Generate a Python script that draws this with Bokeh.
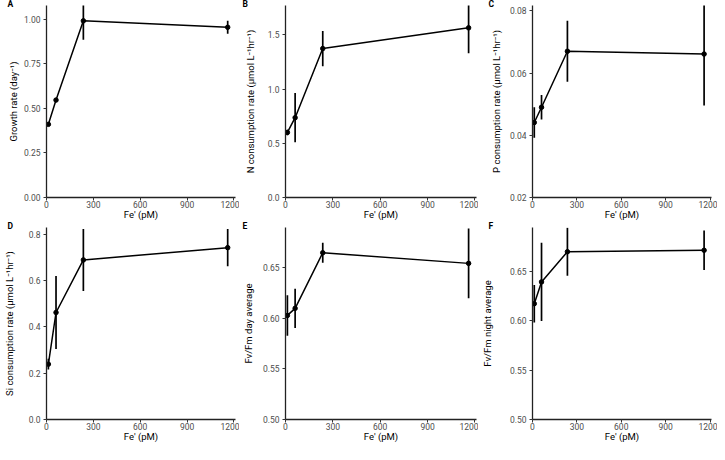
from bokeh.plotting import figure
from bokeh.layouts import gridplot
from bokeh.models import ColumnDataSource, Range1d, FixedTicker, NumeralTickFormatter, Title
from bokeh.embed import file_html
from bokeh.resources import INLINE

# ---- data ----
fe_pm = [12, 61, 236, 1160]
x_ticks = [0, 300, 600, 900, 1200]

growth = [0.410, 0.546, 0.990, 0.954]
growth_err = [0.010, 0.006, 0.106, 0.037]

n_rate = [0.600, 0.736, 1.373, 1.564]
n_err = [0.025, 0.227, 0.163, 0.235]

p_rate = [0.0441, 0.0490, 0.0670, 0.0661]
p_err = [0.0049, 0.0039, 0.0098, 0.0165]

si_rate = [0.239, 0.462, 0.689, 0.742]
si_err = [0.023, 0.158, 0.134, 0.080]

fvfm_day = [0.603, 0.610, 0.665, 0.6545]
fvfm_day_err = [0.020, 0.0195, 0.0098, 0.0345]

fvfm_night = [0.617, 0.639, 0.6695, 0.671]
fvfm_night_err = [0.019, 0.0395, 0.0243, 0.020]

FONT = "Roboto"

panels = [
    dict(letter="A", y=growth, err=growth_err, label="Growth rate (day\u207b\u00b9)",
         yr=(0, 1.076), ticks=[0, 0.25, 0.5, 0.75, 1.0], fmt="0.00",
         L=41, R=4, so=2),
    dict(letter="B", y=n_rate, err=n_err, label="N consumption rate (\u00b5mol L\u207b\u00b9hr\u207b\u00b9)",
         yr=(0, 1.77), ticks=[0, 0.5, 1.0, 1.5], fmt="0.0",
         L=45, R=2, so=9),
    dict(letter="C", y=p_rate, err=p_err, label="P consumption rate (\u00b5mol L\u207b\u00b9hr\u207b\u00b9)",
         yr=(0.02, 0.0817), ticks=[0.02, 0.04, 0.06, 0.08], fmt="0.00",
         L=46, R=6, so=5),
    dict(letter="D", y=si_rate, err=si_err, label="Si consumption rate (\u00b5mol L\u207b\u00b9hr\u207b\u00b9)",
         yr=(0, 0.829), ticks=[0, 0.2, 0.4, 0.6, 0.8], fmt="0.0",
         L=41, R=4, so=11),
    dict(letter="E", y=fvfm_day, err=fvfm_day_err, label="Fv/Fm day average",
         yr=(0.5, 0.69), ticks=[0.50, 0.55, 0.60, 0.65], fmt="0.00",
         L=45, R=2, so=6),
    dict(letter="F", y=fvfm_night, err=fvfm_night_err, label="Fv/Fm night average",
         yr=(0.5, 0.694), ticks=[0.50, 0.55, 0.60, 0.65], fmt="0.00",
         L=46, R=6, so=14),
]

W, H = 239, 222


def make_panel(cfg):
    p = figure(width=W, height=H, output_backend="svg", toolbar_location=None,
               x_range=Range1d(0, 1210), y_range=Range1d(*cfg["yr"]),
               min_border_left=cfg["L"], min_border_right=cfg["R"],
               min_border_top=0, min_border_bottom=24)
    p.outline_line_color = None
    p.xgrid.visible = False
    p.ygrid.visible = False
    p.background_fill_color = "white"
    p.border_fill_color = "white"

    # panel letter, pulled down over the top-left corner
    p.title = Title(text=cfg["letter"], align="left", vertical_align="bottom",
                    offset=-(cfg["L"] - 2), standoff=-7,
                    text_font=FONT, text_font_style="bold", text_font_size="8.5px",
                    text_color="black")

    lo = [v - e for v, e in zip(cfg["y"], cfg["err"])]
    hi = [v + e for v, e in zip(cfg["y"], cfg["err"])]
    src = ColumnDataSource(dict(x=fe_pm, y=cfg["y"], lo=lo, hi=hi))
    p.segment(x0="x", y0="lo", x1="x", y1="hi", source=src, line_color="black", line_width=1.7)
    p.line("x", "y", source=src, line_color="black", line_width=1.5)
    p.scatter("x", "y", source=src, size=4.5, color="black")

    p.xaxis.ticker = FixedTicker(ticks=x_ticks)
    p.yaxis.ticker = FixedTicker(ticks=cfg["ticks"])
    p.yaxis.formatter = NumeralTickFormatter(format=cfg["fmt"])
    p.xaxis.axis_label = "Fe' (pM)"
    p.yaxis.axis_label = cfg["label"]
    for ax in (p.xaxis[0], p.yaxis[0]):
        ax.axis_line_color = "#222222"
        ax.axis_line_width = 1.3
        ax.major_tick_line_color = "#333333"
        ax.major_tick_line_width = 1
        ax.major_tick_in = 0
        ax.major_tick_out = 3
        ax.minor_tick_line_color = None
        ax.major_label_text_font = FONT
        ax.major_label_text_font_size = "8.5px"
        ax.major_label_text_color = "#4d4d4d"
        ax.axis_label_text_font = FONT
        ax.axis_label_text_font_size = "9.5px"
        ax.axis_label_text_font_style = "normal"
        ax.axis_label_text_color = "black"
    p.xaxis.major_label_standoff = 0
    p.xaxis.axis_label_standoff = -2
    p.yaxis.major_label_standoff = 3
    p.yaxis.axis_label_standoff = cfg["so"]
    return p


figs = [make_panel(c) for c in panels]
grid = gridplot([figs[:3], figs[3:]], toolbar_location=None)

open("out.html", "w").write(file_html(grid, INLINE))
